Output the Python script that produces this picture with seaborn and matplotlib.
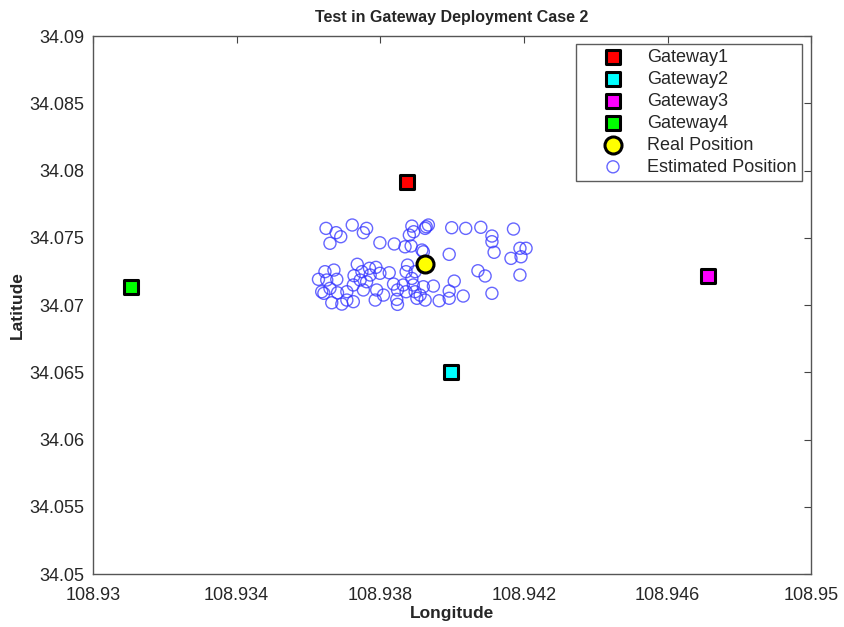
import matplotlib
matplotlib.use('Agg')
import matplotlib.pyplot as plt
import seaborn as sns
import pandas as pd

# gateway positions (lon, lat)
gw_names = ['Gateway1', 'Gateway2', 'Gateway3', 'Gateway4']
gw_lon = [108.93874, 108.93998, 108.94714, 108.93107]
gw_lat = [34.07912, 34.06500, 34.07218, 34.07136]
gw_colors = ['#ff0000', '#00ffff', '#ff00ff', '#00ff00']

real_lon = [108.93925]
real_lat = [34.07305]

# estimated positions
est_lon = [
    108.93649, 108.93677, 108.93690, 108.93660, 108.93722, 108.93753, 108.93762, 108.93799,
    108.93839, 108.93869, 108.93888, 108.93881, 108.93886, 108.93928, 108.93920, 108.93893,
    108.93736, 108.93628, 108.93646, 108.93671, 108.93651, 108.93679, 108.93637, 108.93660,
    108.93643, 108.93681, 108.93665, 108.93693, 108.93707, 108.93725, 108.93707, 108.93725,
    108.93727, 108.93744, 108.93753, 108.93762, 108.93770, 108.93788, 108.93772, 108.93799,
    108.93825, 108.93790, 108.93786, 108.93809, 108.93837, 108.93848, 108.93846, 108.93848,
    108.93864, 108.93872, 108.93876, 108.93872, 108.93888, 108.93892, 108.93897, 108.93902,
    108.93911, 108.93925, 108.93920, 108.93897, 108.93749,
    108.93934, 108.93925, 108.93999, 108.94038, 108.94080, 108.94111, 108.94111, 108.94171,
    108.94117, 108.93992, 108.93916, 108.94189, 108.94206, 108.94192, 108.94164, 108.94072,
    108.94092, 108.94189, 108.94006, 108.93948, 108.93992, 108.93992, 108.94031, 108.93964,
    108.94111,
]
est_lat = [
    34.07570, 34.07538, 34.07508, 34.07459, 34.07595, 34.07538, 34.07570, 34.07463,
    34.07454, 34.07433, 34.07587, 34.07520, 34.07439, 34.07582, 34.07396, 34.07545,
    34.07303, 34.07191, 34.07248, 34.07260, 34.07186, 34.07191, 34.07099, 34.07124,
    34.07087, 34.07091, 34.07017, 34.07007, 34.07037, 34.07025, 34.07099, 34.07149,
    34.07218, 34.07186, 34.07112, 34.07173, 34.07273, 34.07280, 34.07223, 34.07236,
    34.07240, 34.07112, 34.07037, 34.07074, 34.07156, 34.07112, 34.07042, 34.07005,
    34.07149, 34.07248, 34.07297, 34.07099, 34.07198, 34.07149, 34.07099, 34.07050,
    34.07074, 34.07037, 34.07136, 34.07248, 34.07248,
    34.07595, 34.07570, 34.07575, 34.07570, 34.07578, 34.07513, 34.07471, 34.07565,
    34.07392, 34.07377, 34.07409, 34.07422, 34.07422, 34.07359, 34.07347, 34.07255,
    34.07216, 34.07223, 34.07178, 34.07141, 34.07104, 34.07050, 34.07067, 34.07032,
    34.07087,
]

sns.set_style('white')
plt.rcParams['font.family'] = ['Liberation Sans', 'DejaVu Sans']

fig = plt.figure(figsize=(8.45, 6.27), dpi=100)
ax = fig.add_axes([0.110, 0.0845, 0.850, 0.858])

est_df = pd.DataFrame({'lon': est_lon, 'lat': est_lat})
sns.scatterplot(data=est_df, x='lon', y='lat', ax=ax, marker='o', s=75,
                facecolors='none', edgecolor='#3333ff', linewidth=1.0, alpha=0.75,
                label='Estimated Position')

for name, lo, la, c in zip(gw_names, gw_lon, gw_lat, gw_colors):
    sns.scatterplot(x=[lo], y=[la], ax=ax, marker='s', s=110, color=c,
                    edgecolor='black', linewidth=2.2, label=name, zorder=3)

sns.scatterplot(x=real_lon, y=real_lat, ax=ax, marker='o', s=150, color='#ffff00',
                edgecolor='black', linewidth=2.2, label='Real Position', zorder=4)

ax.set_xlim(108.93, 108.95)
ax.set_ylim(34.05, 34.09)
ax.set_xticks([108.93, 108.934, 108.938, 108.942, 108.946, 108.95])
ax.set_xticklabels(['108.93', '108.934', '108.938', '108.942', '108.946', '108.95'])
ax.set_yticks([34.05, 34.055, 34.06, 34.065, 34.07, 34.075, 34.08, 34.085, 34.09])
ax.set_yticklabels(['34.05', '34.055', '34.06', '34.065', '34.07', '34.075',
                    '34.08', '34.085', '34.09'])
ax.tick_params(direction='in', length=5, width=0.8, top=True, right=True,
               labelsize=13, color='#444444')
ax.tick_params(axis='x', pad=9)
ax.tick_params(axis='y', pad=6)
for sp in ax.spines.values():
    sp.set_color('#555555')
    sp.set_linewidth(1.0)

ax.set_title('Test in Gateway Deployment Case 2', fontsize=11.5, fontweight='bold', pad=10)
ax.set_xlabel('Longitude', fontsize=12.5, fontweight='bold', labelpad=2)
ax.set_ylabel('Latitude', fontsize=12.5, fontweight='bold', labelpad=3)

handles, labels = ax.get_legend_handles_labels()
order = gw_names + ['Real Position', 'Estimated Position']
hmap = dict(zip(labels, handles))
leg = ax.legend([hmap[k] for k in order], order, loc='upper right',
                bbox_to_anchor=(0.987, 0.985), fontsize=13, frameon=True,
                fancybox=False, edgecolor='#333333', handletextpad=0.15,
                borderpad=0.28, labelspacing=0.27, handlelength=3.5,
                borderaxespad=0.0)
leg.get_frame().set_linewidth(1.0)

fig.savefig('out.png', dpi=100)
